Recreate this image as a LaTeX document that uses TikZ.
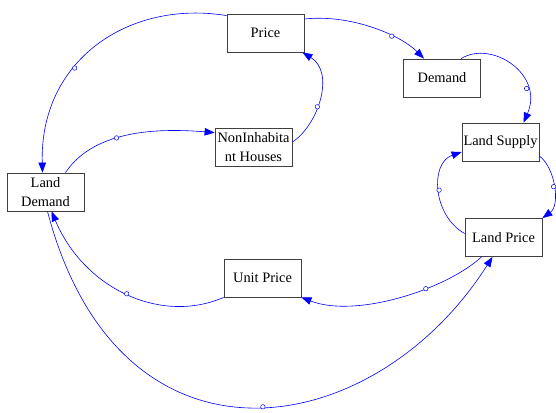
\documentclass[tikz,border=0pt]{standalone}
\usepackage{fontspec}
\setmainfont{Liberation Serif}
\usetikzlibrary{arrows.meta}

\begin{document}
\begin{tikzpicture}[
          x = 1pt, y = -1pt,
        box/.style = {rectangle, draw=black!75, line width=0.8pt, fill=white,
                      minimum width=77pt, minimum height=38pt, inner sep=1pt,
                      align=center, font=\fontsize{14.4}{18.5}\selectfont},
       link/.style = {draw=blue, line width=0.6pt, -{Triangle[length=10pt,width=7.5pt]}},
     hollow/.style = {circle, draw=blue, fill=white, line width=0.5pt,
                      inner sep=0pt, minimum size=4.5pt}
                        ]
\useasboundingbox[fill=white] (0,0) rectangle (556,412);
\node (price)  [box] at (265.5,33)  {Price};
\node (demand) [box] at (442,78)    {Demand};
\node (supply) [box] at (500.5,142) {Land Supply};
\node (lprice) [box] at (503.5,237.5) {Land Price};
\node (unit)   [box] at (262.5,278) {Unit Price};
\node (ldemand)[box] at (45.5,192)  {Land\\Demand};
\node (noninh) [box] at (253.5,147) {NonInhabita\\nt Houses};
% upper loop
\draw[link] ([yshift=-2pt]price.north west) .. controls +(-97,-16) and +(-3,-113) .. ([xshift=-3pt]ldemand.north) node[hollow,pos=0.62] {};
\draw[link] ([xshift=20pt]ldemand.north) .. controls +(30,-45) and +(-50,-4) .. ([yshift=-5pt]noninh.north west) node[hollow,pos=0.4] {};
\draw[link] ([yshift=5pt]noninh.east) .. controls +(26,-17) and +(33,20) .. ([xshift=-2pt]price.south east) node[hollow,pos=0.42] {};
\draw[link] ([yshift=14pt]price.east) .. controls +(46,-5) and +(-24,-24) .. ([xshift=-18pt]demand.north) node[hollow,pos=0.66] {};
% right side
\draw[link] ([xshift=19pt]demand.north) .. controls +(31,-19) and +(21,-48) .. ([xshift=23pt]supply.north) node[hollow,pos=0.74] {};
\draw[link] ([yshift=-14pt]supply.east) .. controls +(16,12) and +(18,-13) .. (lprice.north east) node[hollow,pos=0.5] {};
\draw[link] ([yshift=4pt]lprice.west) .. controls +(-32,-18) and +(-32,11) .. ([yshift=-10pt]supply.west) node[hollow,pos=0.5] {};
% lower loop
\draw[link] ([xshift=-22pt]lprice.south) .. controls +(-36,33) and +(54,21) .. (unit.south east) node[hollow,pos=0.36] {};
\draw[link] (unit.south west) .. controls +(-62,27) and +(33,78) .. ([xshift=6pt]ldemand.south) node[hollow,pos=0.5] {};
\draw[link] ([xshift=2pt]ldemand.south) .. controls +(72,274) and +(-119,187) .. ([xshift=-11pt]lprice.south) node[hollow,pos=0.52] {};
\end{tikzpicture}
\end{document}
